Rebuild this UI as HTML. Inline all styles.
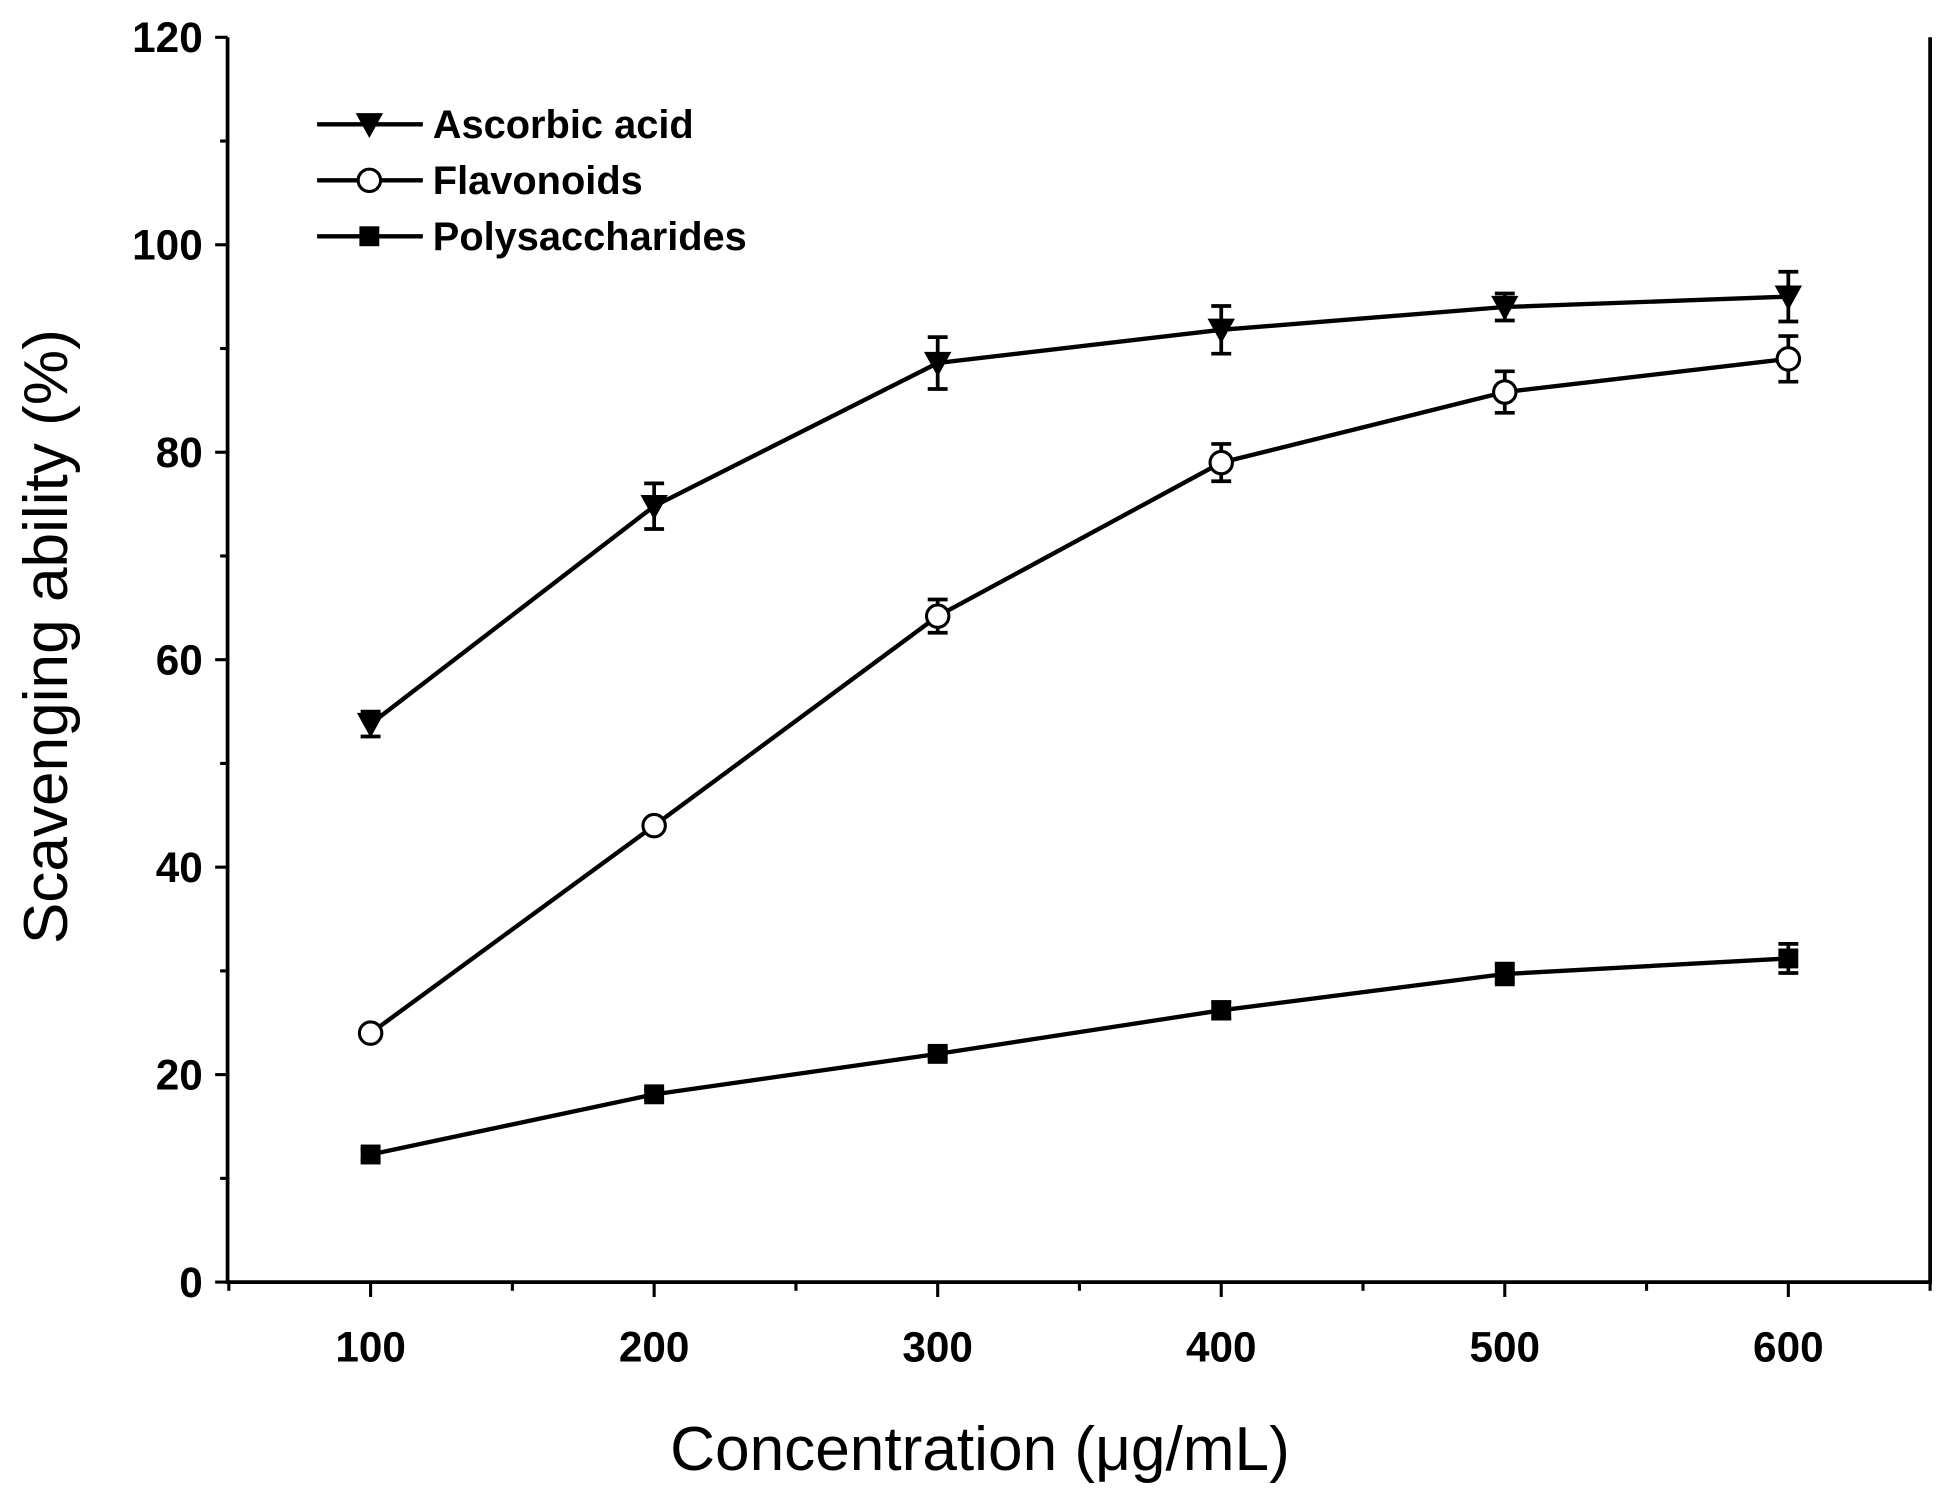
<!DOCTYPE html>
<html><head><meta charset="utf-8"><style>
html,body{margin:0;padding:0;background:#fff}
svg{display:block}
text{font-family:"Liberation Sans",Arial,sans-serif;fill:#000}
</style></head><body>
<svg id="chart" width="1950" height="1491" viewBox="0 0 1568 1199" preserveAspectRatio="none" xmlns="http://www.w3.org/2000/svg">
<g id="axes"></g>
<g id="series"></g>
<g id="legend"></g>
<text x="788" y="1182" font-size="50" text-anchor="middle">Concentration (μg/mL)</text>
<text transform="translate(54,512) rotate(-90)" font-size="50" text-anchor="middle">Scavenging ability (%)</text>
</svg>
<script>
const categories=[100,200,300,400,500,600];
const ascorbicValues=[53.8,74.8,88.6,91.8,94.0,95.0];
const ascorbicErrors=[1.2,2.2,2.5,2.3,1.3,2.4];
const flavonoidValues=[24.0,44.0,64.2,79.0,85.8,89.0];
const flavonoidErrors=[0.5,0.5,1.6,1.8,2.0,2.2];
const polyValues=[12.3,18.1,22.0,26.2,29.7,31.2];
const polyErrors=[0.5,0.5,0.5,0.8,1.0,1.4];
const yTickLabels=[0,20,40,60,80,100,120];
const xTickLabels=[100,200,300,400,500,600];

const NS="http://www.w3.org/2000/svg";
const L=183,R=1552,T=30,B=1031;
const xS=v=>298+(v-100)*(1438-298)/500;
const yS=v=>B-v*(B-T)/120;
function mk(tag,attrs,parent){const e=document.createElementNS(NS,tag);for(const k in attrs)e.setAttribute(k,attrs[k]);parent.appendChild(e);return e;}
const axes=document.getElementById('axes');
let f=mk('path',{d:`M${L},${T}V${B}H${R}V${T}`,fill:'none',stroke:'#000','stroke-width':3},axes);


for(let v=0;v<=120;v+=10){
  const major=v%20===0;
  const t=mk('line',{x1:L,x2:L-(major?10:6),y1:yS(v),y2:yS(v),stroke:'#000','stroke-width':2.5},axes);
  
  
}
yTickLabels.forEach(v=>{
  const t=mk('text',{x:L-20,y:yS(v)+12,'font-size':34,'font-weight':'bold','text-anchor':'end'},axes);
  t.textContent=v;
  
  
});
for(let v=50;v<=650;v+=50){
  const major=v%100===0;
  const t=mk('line',{x1:xS(v),x2:xS(v),y1:B,y2:B+(major?12:7),stroke:'#000','stroke-width':2.5},axes);
  
  
}
xTickLabels.forEach(v=>{
  const t=mk('text',{x:xS(v),y:B+64,'font-size':34,'font-weight':'bold','text-anchor':'middle'},axes);
  t.textContent=v;
  
  
});
const series=document.getElementById('series');
function marker(type,x,y,g){
  let m;
  if(type==='tri') m=mk('path',{d:`M${x-11},${y-9}H${x+11}L${x},${y+11}Z`,fill:'#000'},g);
  else if(type==='circ') m=mk('circle',{cx:x,cy:y,r:9,fill:'#fff',stroke:'#000','stroke-width':2.5},g);
  else m=mk('rect',{x:x-8,y:y-8,width:16,height:16,fill:'#000'},g);
  return m;
}
function drawSeries(name,vals,errs,type){
  const g=mk('g',{},series);
  
  
  const p=mk('polyline',{points:categories.map((c,i)=>xS(c)+','+yS(vals[i])).join(' '),fill:'none',stroke:'#000','stroke-width':3.5},g);
  
  
  categories.forEach((c,i)=>{
    const x=xS(c),y1=yS(vals[i]+errs[i]),y2=yS(vals[i]-errs[i]);
    const e=mk('path',{d:`M${x},${y1}V${y2}M${x-8},${y1}H${x+8}M${x-8},${y2}H${x+8}`,stroke:'#000','stroke-width':3,fill:'none'},g);
    
    
    const m=marker(type,x,yS(vals[i]),g);
    
    
  });
}
drawSeries('ascorbic-acid',ascorbicValues,ascorbicErrors,'tri');
drawSeries('flavonoids',flavonoidValues,flavonoidErrors,'circ');
drawSeries('polysaccharides',polyValues,polyErrors,'sq');
const legend=document.getElementById('legend');
[['Ascorbic acid','tri'],['Flavonoids','circ'],['Polysaccharides','sq']].forEach((d,i)=>{
  const y=100+i*45;
  const g=mk('g',{},legend);
  
  
  mk('line',{x1:255,x2:340,y1:y,y2:y,stroke:'#000','stroke-width':3.5},g);
  marker(d[1],297,y,g);
  const t=mk('text',{x:348,y:y+11,'font-size':32,'font-weight':'bold'},g);
  t.textContent=d[0];
});
</script>
</body></html>
